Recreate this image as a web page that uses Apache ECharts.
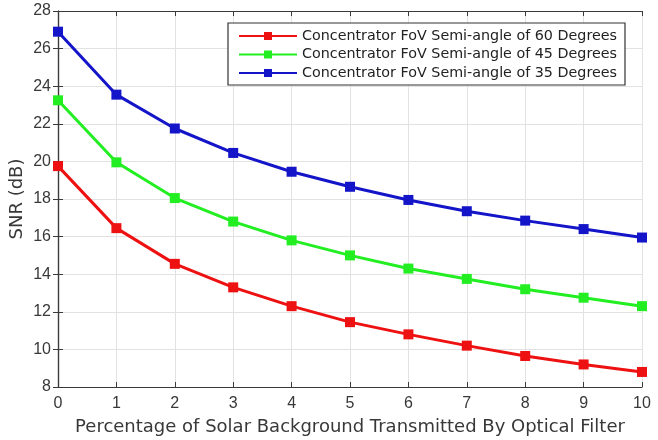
<!DOCTYPE html>
<html>
<head>
<meta charset="utf-8">
<script src="https://cdn.jsdelivr.net/npm/echarts@6/dist/echarts.min.js"></script>
<style>
  html, body { margin: 0; padding: 0; background: #fff; }
  #chart { width: 658px; height: 440px; }
</style>
</head>
<body>
<div id="chart"></div>
<script>
// percentage of solar background transmitted
var xValues = [0, 1, 2, 3, 4, 5, 6, 7, 8, 9, 10];
var seriesNames = [
  'Concentrator FoV Semi-angle of 60 Degrees',
  'Concentrator FoV Semi-angle of 45 Degrees',
  'Concentrator FoV Semi-angle of 35 Degrees'
];
var snr60 = [19.75, 16.45, 14.55, 13.3, 12.3, 11.45, 10.8, 10.2, 9.65, 9.2, 8.8];
var snr45 = [23.25, 19.95, 18.05, 16.8, 15.8, 15.0, 14.3, 13.75, 13.2, 12.75, 12.3];
var snr35 = [26.9, 23.55, 21.75, 20.45, 19.45, 18.65, 17.95, 17.35, 16.85, 16.4, 15.95];
var colors = ['#ee1111', '#22ee22', '#1414c8'];

function pairs(ys) {
  var out = [];
  for (var i = 0; i < xValues.length; i++) {
    out.push([xValues[i], ys[i]]);
  }
  return out;
}

var allData = [snr60, snr45, snr35];
var serieData = [];
for (var s = 0; s < allData.length; s++) {
  serieData.push({
    name: seriesNames[s],
    type: 'line',
    symbol: 'rect',
    symbolSize: 10,
    lineStyle: { width: 3, color: colors[s] },
    itemStyle: { color: colors[s] },
    data: pairs(allData[s]),
    z: 3 + s
  });
}

var axisCol = '#3a3a3a';
var tickFont = { color: '#383838', fontSize: 16, fontFamily: 'Liberation Sans, Arial, sans-serif' };
var nameFont = { color: '#383838', fontSize: 18, fontFamily: 'DejaVu Sans, sans-serif' };

var myChart = echarts.init(document.getElementById('chart'));
var option = {
  animation: false,
  color: colors,
  grid: { left: 58, right: 16, top: 11, bottom: 53, containLabel: false, outerBoundsMode: 'none' },
  legend: {
    left: 228, top: 23,
    orient: 'vertical',
    itemGap: 4.5,
    itemWidth: 58, itemHeight: 10,
    padding: [6, 8, 5, 10],
    borderColor: '#333', borderWidth: 1.2,
    backgroundColor: '#fff',
    textStyle: { color: '#222', fontSize: 14.3, fontFamily: 'DejaVu Sans, sans-serif' },
    data: seriesNames
  },
  xAxis: [
    {
      type: 'value', min: 0, max: 10, interval: 1,
      name: 'Percentage of Solar Background Transmitted By Optical Filter',
      nameLocation: 'middle', nameGap: 31,
      nameTextStyle: nameFont,
      axisLine: { lineStyle: { color: axisCol, width: 1.2 } },
      axisTick: { inside: true, length: 5, lineStyle: { color: axisCol } },
      axisLabel: { margin: 9, color: tickFont.color, fontSize: tickFont.fontSize, fontFamily: tickFont.fontFamily },
      splitLine: { show: true, lineStyle: { color: '#e2e2e2' } }
    },
    {
      type: 'value', min: 0, max: 10, interval: 1, position: 'top',
      axisLine: { show: true, lineStyle: { color: axisCol, width: 1.2 } },
      axisTick: { show: true, inside: true, length: 5, lineStyle: { color: axisCol } },
      axisLabel: { show: false },
      splitLine: { show: false }
    }
  ],
  yAxis: [
    {
      type: 'value', min: 8, max: 28, interval: 2,
      name: 'SNR (dB)',
      nameLocation: 'middle', nameGap: 32,
      nameMoveOverlap: false,
      nameTextStyle: nameFont,
      axisLine: { show: true, lineStyle: { color: axisCol, width: 1.2 } },
      axisTick: { show: true, inside: true, length: 5, lineStyle: { color: axisCol } },
      axisLabel: { margin: 7, color: tickFont.color, fontSize: tickFont.fontSize, fontFamily: tickFont.fontFamily },
      splitLine: { show: true, lineStyle: { color: '#e2e2e2' } }
    },
    {
      type: 'value', min: 8, max: 28, interval: 2, position: 'right',
      axisLine: { show: true, lineStyle: { color: axisCol, width: 1.2 } },
      axisTick: { show: true, inside: true, length: 5, lineStyle: { color: axisCol } },
      axisLabel: { show: false },
      splitLine: { show: false }
    }
  ],
  series: serieData
};
myChart.setOption(option);
</script>
</body>
</html>
